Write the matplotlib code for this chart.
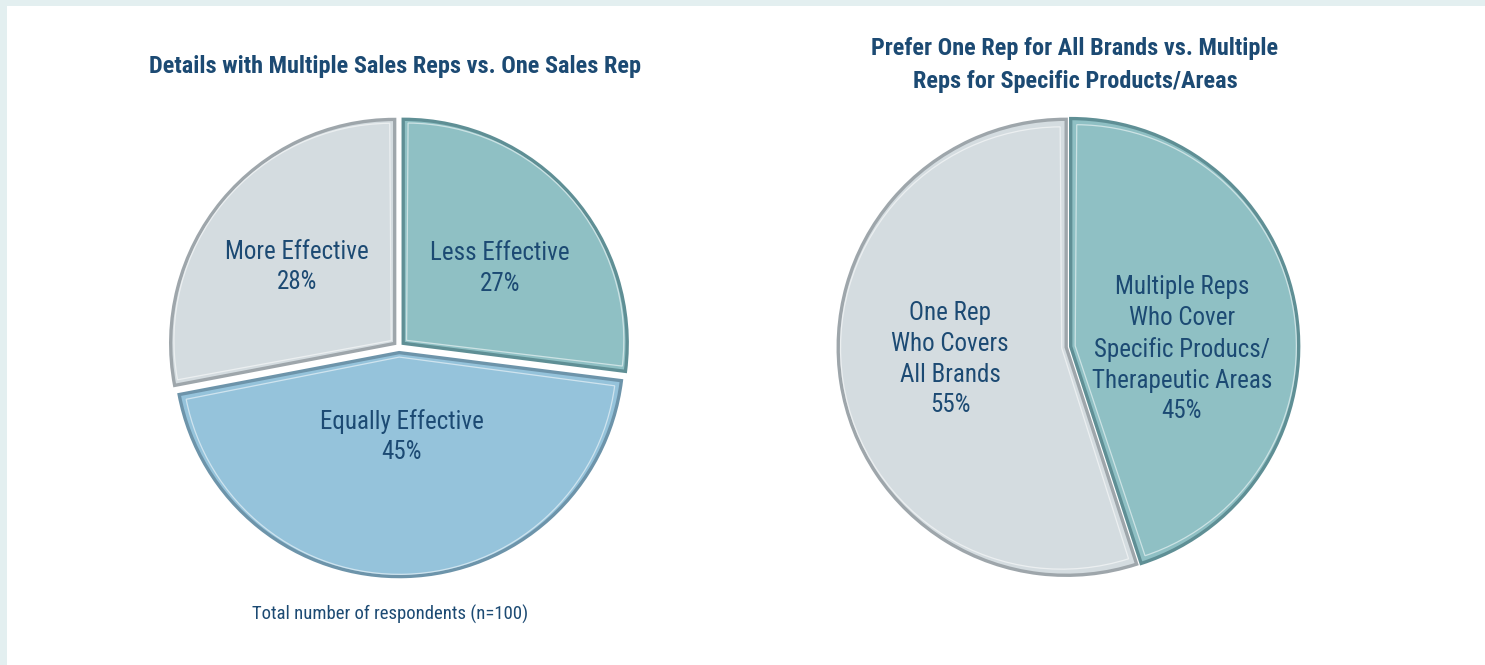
import matplotlib
matplotlib.use("Agg")
import matplotlib.pyplot as plt
import matplotlib.patches as patches
import numpy as np

plt.rcParams['font.family'] = ['Roboto Condensed', 'DejaVu Sans']

# left pie: detailing with several reps vs one rep
left_title = "Details with Multiple Sales Reps vs. One Sales Rep"
left_labels = ["Less Effective", "Equally Effective", "More Effective"]
left_values = [27, 45, 28]
left_colors = ["#8fc0c4", "#95c3db", "#d4dce0"]
left_edges = ["#5f8f95", "#6d94aa", "#9ea6ab"]

# right pie: one rep vs multiple reps preference
right_title = "Prefer One Rep for All Brands vs. Multiple\nReps for Specific Products/Areas"
right_labels = ["Multiple Reps\nWho Cover\nSpecific Producs/\nTherapeutic Areas", "One Rep\nWho Covers\nAll Brands"]
right_values = [45, 55]
right_colors = ["#8fc0c4", "#d4dce0"]
right_edges = ["#5f8f95", "#9ea6ab"]

footnote = "Total number of respondents (n=100)"

TEXT = "#1c4a73"
W, H = 1485, 665

fig = plt.figure(figsize=(W / 100, H / 100), dpi=100)
fig.patch.set_facecolor("#e3eff0")
fig.add_artist(patches.Rectangle((7 / W, 0), 1, 1 - 6 / H, transform=fig.transFigure,
                                 facecolor="white", edgecolor="none", zorder=0))


def pie_axes(cx, cy, r_px):
    # axes centred on pixel (cx, cy) where one data unit is r_px pixels
    half = 1.15 * r_px
    return fig.add_axes([(cx - half) / W, (H - cy - half) / H, 2 * half / W, 2 * half / H])


def bevel_pie(ax, values, colors, edges, explode):
    wedges, _ = ax.pie(values, colors=colors, startangle=90, counterclock=False,
                       explode=explode, radius=1.0,
                       wedgeprops=dict(edgecolor="none"))
    for w, ec in zip(wedges, edges):
        # dark bevel round the whole slice
        outline = patches.Wedge(w.center, w.r, w.theta1, w.theta2,
                                facecolor="none", edgecolor=ec, lw=2.4,
                                joinstyle="miter", zorder=3)
        ax.add_patch(outline)
        # light highlight inset a little from the bevel
        mid = np.deg2rad((w.theta1 + w.theta2) / 2)
        inset = 0.02
        c = (w.center[0] + inset * np.cos(mid), w.center[1] + inset * np.sin(mid))
        hl = patches.Wedge(c, w.r - 0.03, w.theta1 + 0.4, w.theta2 - 0.4,
                           facecolor="none", edgecolor="white", lw=0.9, alpha=0.55, zorder=4)
        ax.add_patch(hl)
    ax.set_xlim(-1.15, 1.15)
    ax.set_ylim(-1.15, 1.15)
    ax.set_aspect("equal")
    ax.axis("off")
    return wedges


def place_labels(ax, wedges, labels, values, spots, size):
    # spots: (distance from centre, angle shift, vertical nudge) for each label
    for w, lab, v, (f, dang, dy) in zip(wedges, labels, values, spots):
        ang = np.deg2rad((w.theta1 + w.theta2) / 2 + dang)
        x = f * np.cos(ang)
        y = f * np.sin(ang) + dy
        ax.text(x, y, f"{lab}\n{v}%", ha="center", va="center", fontsize=size,
                color=TEXT, linespacing=1.35, zorder=5)


axl = pie_axes(399, 347, 224)
wl = bevel_pie(axl, left_values, left_colors, left_edges, [0.025, 0.025, 0.025])
place_labels(axl, wl, left_labels, left_values,
             [(0.57, -3.5, 0.0), (0.40, 0.0, 0.0), (0.58, 1.5, 0.0)], 18)

axr = pie_axes(1068, 347, 228)
wr = bevel_pie(axr, right_values, right_colors, right_edges, [0.012, 0.008])
place_labels(axr, wr, right_labels, right_values,
             [(0.50, -9.0, -0.01), (0.52, -3.0, 0.0)], 18)

fig.text(395 / W, 1 - 67 / H, left_title, ha="center", va="center", fontsize=17.5,
         fontweight="bold", color=TEXT)
fig.text(1075 / W, 1 - 65 / H, right_title, ha="center", va="center", fontsize=17.5,
         fontweight="bold", color=TEXT, linespacing=1.6)
fig.text(390 / W, 1 - 614 / H, footnote, ha="center", va="center", fontsize=13.5,
         color=TEXT)

fig.savefig("out.png", dpi=100, facecolor=fig.get_facecolor())
